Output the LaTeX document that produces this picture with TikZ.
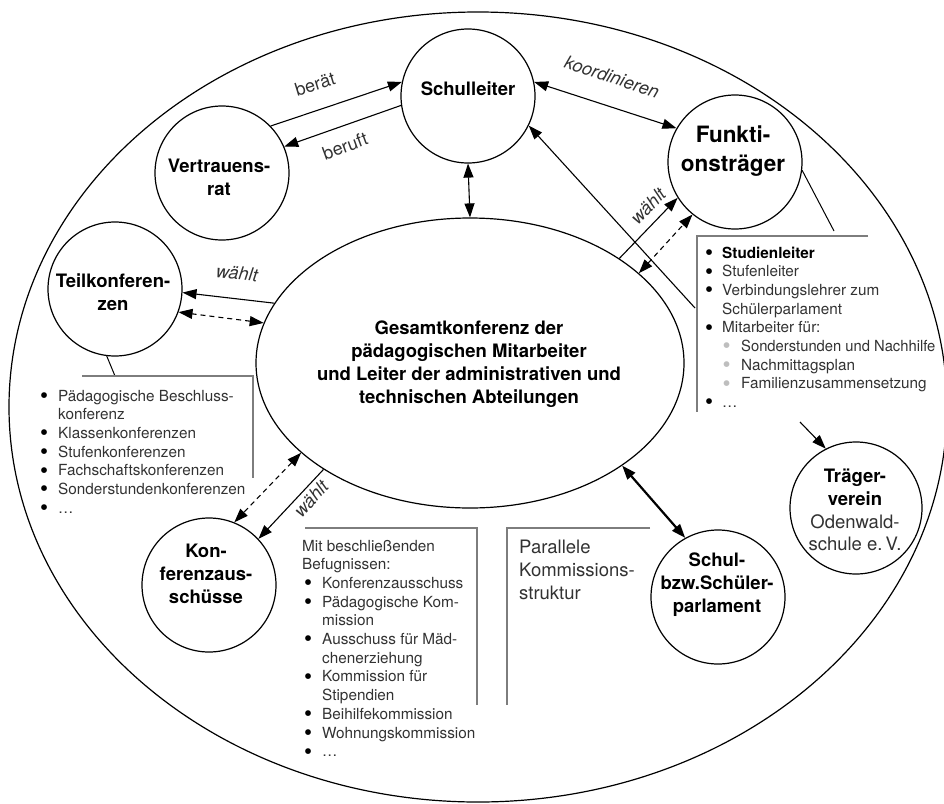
\documentclass[tikz,border=0pt]{standalone}
\usepackage{fontspec}
\usepackage{graphicx}
\setmainfont{TeX Gyre Heros}
\usetikzlibrary{arrows.meta,shapes.geometric}
\definecolor{boxgray}{RGB}{125,125,125}
\definecolor{txtgray}{RGB}{50,50,50}
\definecolor{subgray}{RGB}{190,190,190}
\tikzset{
  circ/.style={circle, draw, line width=1.2pt, minimum size=134pt, inner sep=0pt},
  bigtext/.style={font=\bfseries\fontsize{18.5}{23}\selectfont, align=center, inner sep=0pt},
  tip/.tip={Triangle[length=14pt,width=10pt]},
  conn/.style={line width=1.1pt, -tip},
  biconn/.style={line width=1.1pt, tip-tip},
  dashconn/.style={biconn, dash pattern=on 5pt off 4pt},
  edgelabel/.style={font=\fontsize{18}{20}\selectfont, text=txtgray, inner sep=0pt},
  itlabel/.style={edgelabel, font=\itshape\fontsize{18}{20}\selectfont},
  boxline/.style={draw=boxgray, line width=1.4pt},
  thinline/.style={line width=1pt},
  listtext/.style={font=\fontsize{15.3}{18.7}\selectfont, text=txtgray, anchor=base west, inner sep=0pt},
}
\newcommand\bul{\raisebox{-2.3pt}{\scalebox{1.5}{\textcolor{black}{\textbullet}}}}
\newcommand\subbul{\hspace*{0.5pt}\makebox[18.5pt][l]{\raisebox{-2.3pt}{\scalebox{1.5}{\textcolor{subgray}{\textbullet}}}}}
\begin{document}
\begin{tikzpicture}[x=1pt,y=-1pt]
\useasboundingbox (0,0) rectangle (944,803);
% outer ellipse
\draw[line width=1.2pt] (478,407) ellipse [x radius=469, y radius=395];

% nodes
\node[circ] (sl) at (468,96) {};
\node[bigtext] (slt) at (468,89) {Schulleiter};
\node[circ] (vr) at (222,173) {};
\node[bigtext] (vrt) at (219,177) {Vertrauens-\\rat};
\node[circ] (ft) at (735,162) {};
\node[bigtext, font=\bfseries\fontsize{22.5}{29}\selectfont] (ftt) at (733,151) {Funkti-\\onsträger};
\node[circ] (tk) at (115,289) {};
\node[bigtext] (tkt) at (113,292) {Teilkonferen-\\zen};
\node[circ] (ka) at (209,585) {};
\node[bigtext] (kat) at (206,574) {Kon-\\ferenzaus-\\schüsse};
\node[circ] (sp) at (718,597) {};
\node[bigtext] (spt) at (717,585) {Schul-\\bzw.Schüler-\\parlament};
\node[circ, minimum size=132pt] (tv) at (856,508) {};
\node[bigtext, font=\fontsize{18.5}{22.7}\selectfont] (tvt) at (855,510)
  {\textbf{Träger-}\\\textbf{verein}\\\textcolor{txtgray}{Odenwald-}\\\textcolor{txtgray}{schule e.\,V.}};
\node[ellipse, draw, line width=1.2pt, minimum width=428pt, minimum height=290pt, inner sep=0pt] (gk) at (470,363) {};
\node[bigtext] (gkt) at (469,364) {Gesamtkonferenz der\\pädagogischen Mitarbeiter\\und Leiter der administrativen und\\technischen Abteilungen};

% connectors
\draw[conn] (vr.44) -- (sl.168);
\draw[conn] (sl.188) -- (vr.23);
\draw[biconn] (sl.12) -- (ft.150);
\draw[biconn] (sl.south) -- (gk.north);
\draw[conn] (gk.35) -- (ft.212);
\draw[dashconn] (gk.28) -- (ft.231);
\draw[conn] (gk.163) -- (tk.-3);
\draw[dashconn] (gk.169) -- (tk.-20);
\draw[conn] (gk.216) -- (ka.43);
\draw[dashconn] (gk.208) -- (ka.68);
\draw[line width=2.2pt, tip-tip] (gk.-34) -- (sp.119);

% labels
\node[edgelabel, rotate=17] (l1) at (315,84) {berät};
\node[edgelabel, rotate=20] (l2) at (345,146) {beruft};
\node[itlabel, rotate=-18] (l3) at (612,77) {koordinieren};
\node[itlabel, rotate=-6] (l4) at (237,273) {wählt};
\node[itlabel, rotate=46] (l5) at (648,206) {wählt};
\node[itlabel, rotate=48] (l6) at (311,499) {wählt};

% Teilkonferenzen list
\coordinate (tkb) at (115,376);
\draw[thinline] (tk.-97) -- (tkb);
\draw[boxline] (82,376) -- (253,376) -- (253,478);
\node[listtext] (tkl) at (40,401) {\begin{tabular}[t]{@{}p{18pt}@{}l@{}}
\bul & Pädagogische Beschluss-\\
 & konferenz\\
\bul & Klassenkonferenzen\\
\bul & Stufenkonferenzen\\
\bul & Fachschaftskonferenzen\\
\bul & Sonderstundenkonferenzen\\
\bul & …
\end{tabular}};

% Funktionstraeger list
\coordinate (ftb) at (834,231);
\draw[thinline] (ft.-7) -- (ftb);
\draw[boxline] (868,236) -- (697,236) -- (697,412);
\node[listtext] (ftl) at (705,258) {\begin{tabular}[t]{@{}p{17pt}@{}l@{}}
\bul & \textbf{\textcolor{black}{Studienleiter}}\\
\bul & Stufenleiter\\
\bul & Verbindungslehrer zum\\
 & Schülerparlament\\
\bul & Mitarbeiter für:\\
 & \subbul\scalebox{0.965}[1]{Sonderstunden und Nachhilfe}\\
 & \subbul Nachmittagsplan\\
 & \subbul Familienzusammensetzung\\
\bul & …
\end{tabular}};
\coordinate (vlz) at (695,308);
\draw[conn] (vlz) -- (sl.-26);
\coordinate (tvs) at (800,422);
\draw[conn] (tvs) -- (tv.117);

% Konferenzausschuesse list
\draw[boxline] (305,528) -- (477,528) -- (477,705);
\node[listtext] (kal) at (302,551) {\begin{tabular}[t]{@{}p{20pt}@{}l@{}}
\multicolumn{2}{@{}l@{}}{Mit beschließenden}\\
\multicolumn{2}{@{}l@{}}{Befugnissen:}\\
\hspace*{2pt}\bul & Konferenzausschuss\\
\hspace*{2pt}\bul & Pädagogische Kom-\\
 & mission\\
\hspace*{2pt}\bul & Ausschuss für Mäd-\\
 & chenerziehung\\
\hspace*{2pt}\bul & Kommission für\\
 & Stipendien\\
\hspace*{2pt}\bul & Beihilfekommission\\
\hspace*{2pt}\bul & Wohnungskommission\\
\hspace*{2pt}\bul & …
\end{tabular}};

% Parallele Kommissionsstruktur
\draw[boxline] (650,528) -- (507,528) -- (507,705);
\node[listtext, font=\fontsize{18.5}{23.3}\selectfont] (pks) at (519,553) {\begin{tabular}[t]{@{}l@{}}
Parallele\\Kommissions-\\struktur
\end{tabular}};
\end{tikzpicture}
\end{document}
